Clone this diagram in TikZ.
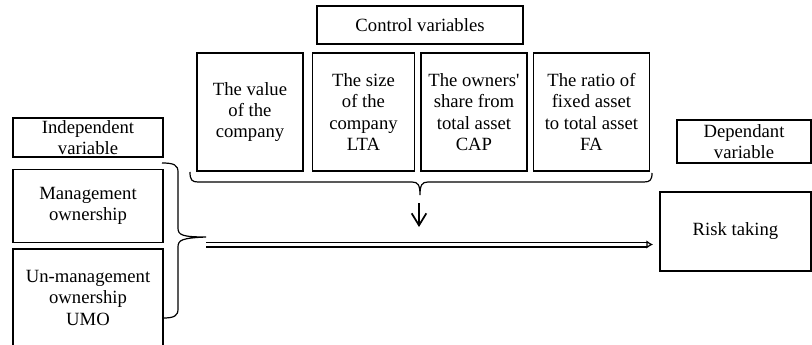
\documentclass[tikz,border=0pt]{standalone}
\usepackage{fontspec}
\setmainfont{Liberation Serif}
\usepackage{tikz}
\usetikzlibrary{positioning}
\usetikzlibrary{arrows.meta}

\begin{document}
\begin{tikzpicture}[x=0.75pt, y=-0.75pt,
  every node/.style={font=\fontsize{14pt}{16pt}\selectfont, align=center},
  varbox/.style={draw, rectangle, line width=1.1pt, inner sep=1pt},
  curly/.style={line width=0.9pt}]
  \useasboundingbox (0,0) rectangle (812,345);

  \node (ctrl) [varbox, minimum width=154.5pt, minimum height=28.5pt] at (420,25) {Control variables};
  \node (value) [varbox, minimum width=79.5pt, minimum height=88.5pt] at (250,112) {The value\\of the\\company};
  \node (size) [varbox, minimum width=76.5pt, minimum height=88.5pt, right=6pt of value] {The size\\of the\\company\\LTA};
  \node (owners) [varbox, minimum width=79.5pt, minimum height=88.5pt, right=3.75pt of size] {The owners\textquotesingle\\share from\\total asset\\CAP};
  \node (ratio) [varbox, minimum width=87pt, minimum height=88.5pt, right=3.75pt of owners] {The ratio of\\fixed asset\\to total asset\\FA};

  \node (indep) [varbox, minimum width=112.5pt, minimum height=29.25pt] at (88,137.5) {Independent\\variable};
  \node (mgmt) [varbox, minimum width=112.5pt, minimum height=54.75pt, below=8.25pt of indep] {Management\\ownership};
  \node (unmgmt) [varbox, minimum width=112.5pt, minimum height=73.5pt, below=3.75pt of mgmt] {Un-management\\ownership\\UMO};

  \node (dep) [varbox, minimum width=100.5pt, minimum height=32.25pt] at (744,141.5) {Dependant\\variable};
  \node (risk) [varbox, minimum width=113.25pt, minimum height=59.25pt] at (735.5,231.5) {Risk taking};

  \coordinate (ctrltip) at (420,195);
  \coordinate (indtip) at (206,237);
  \coordinate (downstart) at (419,203);
  \coordinate (downend) at (419,227);
  \coordinate (flowstart) at (206,244.5);
  \coordinate (flowend) at (653,244.5);

  % brace under the control variables
  \draw[curly] (190,172) .. controls (190,180) and (192,182) .. (198,182) -- (412,182)
    .. controls (418,182) and (420,185) .. (ctrltip)
    .. controls (420,185) and (422,182) .. (428,182) -- (644,182)
    .. controls (650,182) and (652,180) .. (652,173);
  % brace beside the independent variables
  \draw[curly] (162,163) .. controls (174,163) and (178,165) .. (178,172) -- (178,228)
    .. controls (178,235) and (182,237) .. (indtip)
    .. controls (182,238) and (178,240) .. (178,247) -- (178,309)
    .. controls (178,316) and (174,318) .. (163,318);

  \draw[-{Straight Barb[length=9pt, width=11pt]}, line width=1.3pt] (downstart) -- (downend);
  \draw[double, double distance=2.7pt, line width=0.9pt, -{Latex[open, length=5pt, width=6.5pt]}] (flowstart) -- (flowend);
\end{tikzpicture}
\end{document}
